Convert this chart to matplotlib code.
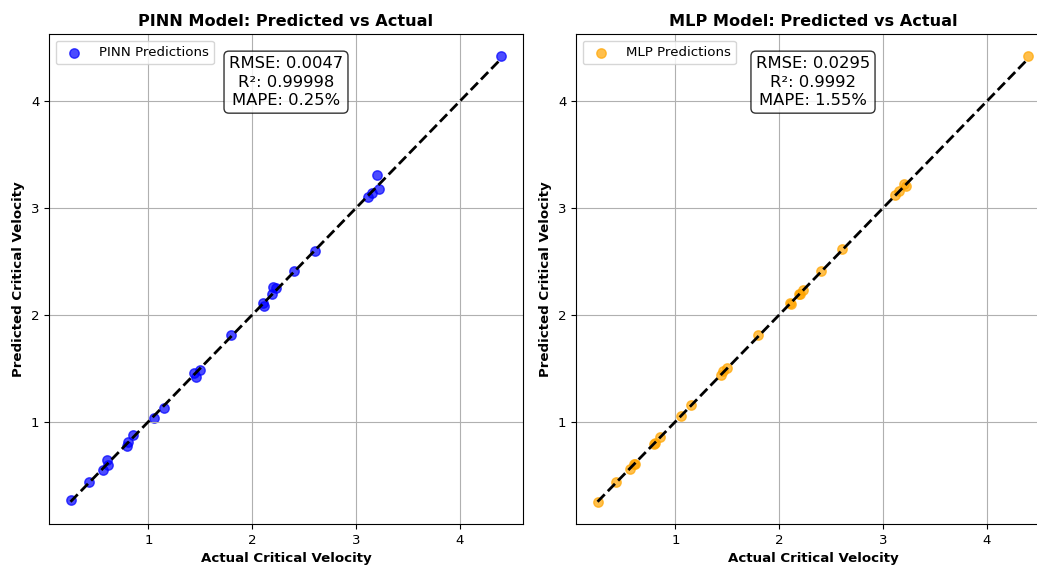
import matplotlib
matplotlib.use("Agg")
import matplotlib.pyplot as plt

# values
actual = [0.25, 0.43, 0.56, 0.60, 0.61, 0.79, 0.80, 0.85, 1.05, 1.15, 1.44, 1.46, 1.50,
          1.80, 2.10, 2.11, 2.19, 2.20, 2.23, 2.40, 2.60, 3.11, 3.15, 3.20, 3.22, 4.40]
pinn_pred = [0.27, 0.43, 0.545, 0.64, 0.59, 0.775, 0.81, 0.87, 1.03, 1.13, 1.455, 1.42, 1.485,
             1.81, 2.115, 2.08, 2.19, 2.26, 2.255, 2.41, 2.595, 3.10, 3.14, 3.31, 3.18, 4.42]
mlp_pred = [0.25, 0.43, 0.56, 0.605, 0.60, 0.79, 0.80, 0.855, 1.055, 1.155, 1.44, 1.47, 1.50,
            1.81, 2.11, 2.10, 2.19, 2.19, 2.23, 2.41, 2.62, 3.12, 3.16, 3.22, 3.21, 4.42]

models = ["PINN", "MLP"]
preds = [pinn_pred, mlp_pred]
colors = ["blue", "orange"]
metrics = ["RMSE: 0.0047\nR²: 0.99998\nMAPE: 0.25%",
           "RMSE: 0.0295\nR²: 0.9992\nMAPE: 1.55%"]

plt.rcParams["font.size"] = 9.65

W, H = 1037, 566
fig = plt.figure(figsize=(W / 100, H / 100), dpi=100)

# axes boxes in pixels (left, top, right, bottom); right panel is clipped by the image edge
boxes = [(49, 34, 523, 524), (576, 34, 1050, 524)]

for name, pred, col, txt, (l, t, r, b) in zip(models, preds, colors, metrics, boxes):
    ax = fig.add_axes([l / W, (H - b) / H, (r - l) / W, (b - t) / H])
    ax.scatter(actual, pred, color=col, alpha=0.7, s=46, label=f"{name} Predictions")
    lo, hi = min(actual), max(actual)
    ax.plot([lo, hi], [lo, hi], "k--", lw=2)
    ax.set_xlabel("Actual Critical Velocity", fontweight="bold")
    ax.set_ylabel("Predicted Critical Velocity", fontweight="bold")
    ax.set_title(f"{name} Model: Predicted vs Actual", fontweight="bold", fontsize=11.6)
    ax.grid(True)
    ax.legend(loc="upper left")
    ax.text(0.5, 0.955, txt, transform=ax.transAxes, ha="center", va="top", fontsize=11.8,
            linespacing=1.3,
            bbox=dict(boxstyle="round", facecolor="white", alpha=0.8))

fig.savefig("out.png", dpi=100)
